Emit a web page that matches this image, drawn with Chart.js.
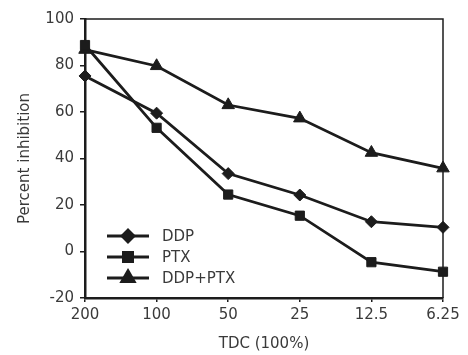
<!DOCTYPE html>
<html>
<head>
<meta charset="utf-8">
<script src="https://cdn.jsdelivr.net/npm/chart.js@4"></script>
<style>
  html, body { margin: 0; padding: 0; background: #fff; }
  #wrap { width: 468px; height: 355px; }
</style>
</head>
<body>
<div id="wrap"><canvas id="myChart" width="468" height="355"></canvas></div>
<script>
const concentrations = ['200', '100', '50', '25', '12.5', '6.25'];
const ddp = [75.5, 59.5, 33.5, 24.3, 12.8, 10.4];
const ptx = [88.8, 53.2, 24.5, 15.4, -4.6, -8.7];
const ddpPtx = [86.8, 79.8, 63, 57.3, 42.5, 35.8];
const yTicks = [-20, 0, 20, 40, 60, 80, 100];

const ink = '#1c1c1c';
const textColor = '#3a3a3a';
const font = { family: 'DejaVu Sans', size: 15 };

// legend sits inside the plot, bottom left
const insideLegend = {
  id: 'insideLegend',
  afterDatasetsDraw(chart) {
    const ctx = chart.ctx;
    const area = chart.chartArea;
    ctx.save();
    chart.data.datasets.forEach((ds, i) => {
      const y = area.bottom - 62 + i * 21;
      const x0 = area.left + 22;
      ctx.strokeStyle = ink;
      ctx.lineWidth = 2.8;
      ctx.beginPath();
      ctx.moveTo(x0, y);
      ctx.lineTo(x0 + 42, y);
      ctx.stroke();
      ctx.fillStyle = ink;
      Chart.helpers.drawPoint(ctx, {
        pointStyle: ds.pointStyle,
        radius: ds.pointRadius,
        borderWidth: 1,
      }, x0 + 21, y);
      ctx.fillStyle = textColor;
      ctx.font = '15px "DejaVu Sans"';
      ctx.textBaseline = 'middle';
      ctx.fillText(ds.label, x0 + 55, y + 1);
    });
    // thin frame on top and right
    ctx.strokeStyle = ink;
    ctx.lineWidth = 1.5;
    ctx.beginPath();
    ctx.moveTo(area.left, area.top);
    ctx.lineTo(area.right, area.top);
    ctx.lineTo(area.right, area.bottom);
    ctx.stroke();
    ctx.restore();
  },
};

const ctx = document.getElementById('myChart');

new Chart(ctx, {
  type: 'line',
  data: {
    labels: concentrations,
    datasets: [
      { label: 'DDP', data: ddp, pointStyle: 'rectRot', pointRadius: 6 },
      { label: 'PTX', data: ptx, pointStyle: 'rect', pointRadius: 6.5 },
      { label: 'DDP+PTX', data: ddpPtx, pointStyle: 'triangle', pointRadius: 7.2 },
    ].map((d) => ({
      ...d,
      borderColor: ink,
      backgroundColor: ink,
      pointBackgroundColor: ink,
      pointBorderColor: ink,
      pointBorderWidth: 1,
      borderWidth: 2.8,
      tension: 0,
    })),
  },
  options: {
    responsive: false,
    animation: false,
    layout: { padding: { top: 19, right: 25, left: 0, bottom: 0 } },
    plugins: {
      legend: { display: false },
      tooltip: { enabled: false },
    },
    scales: {
      x: {
        offset: false,
        afterFit(scale) { scale.height = 57; },
        grid: { drawOnChartArea: false, drawTicks: true, tickLength: 4, color: ink, lineWidth: 1.5 },
        border: { display: true, color: ink, width: 2.5 },
        ticks: { color: textColor, font, padding: 4, maxRotation: 0 },
        title: {
          display: true,
          text: 'TDC (100%)',
          color: textColor,
          font,
          padding: { top: 0, bottom: 2 },
        },
      },
      y: {
        min: -20,
        max: 100,
        afterFit(scale) { scale.width = 85; },
        afterBuildTicks(scale) { scale.ticks = yTicks.map((v) => ({ value: v })); },
        grid: { drawOnChartArea: false, drawTicks: true, tickLength: 5, color: ink, lineWidth: 1.5 },
        border: { display: true, color: ink, width: 2.5 },
        ticks: { color: textColor, font, padding: 6 },
        title: {
          display: true,
          text: 'Percent inhibition',
          color: textColor,
          font,
          padding: { top: 16, bottom: 0 },
        },
      },
    },
  },
  plugins: [insideLegend],
});
</script>
</body>
</html>
